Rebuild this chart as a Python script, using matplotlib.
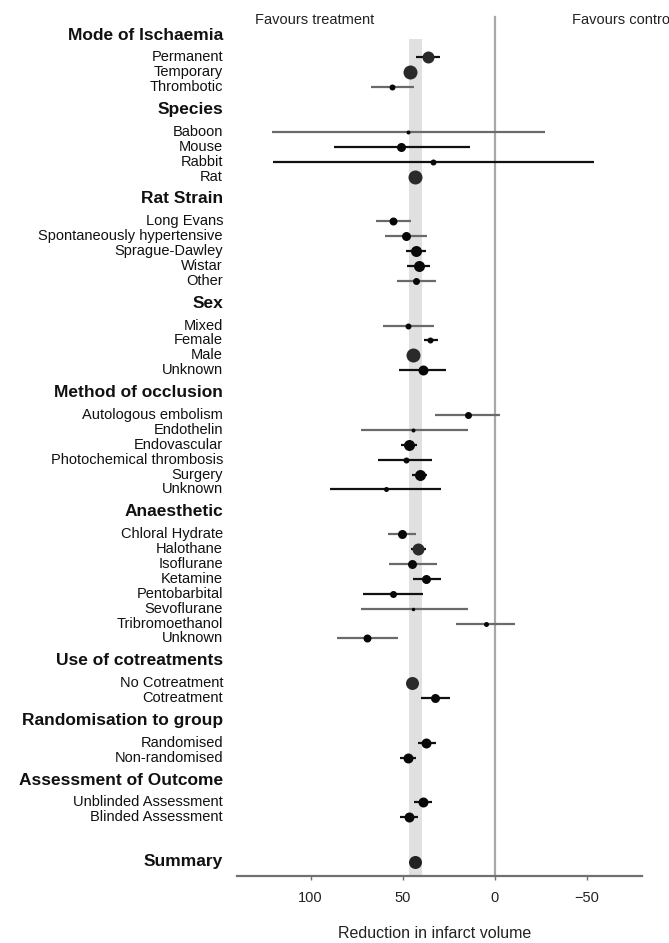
import numpy as np
import matplotlib.pyplot as plt
import matplotlib.transforms as mtransforms

plt.rcParams['font.family'] = ['Liberation Sans', 'DejaVu Sans']

#==================datos (lectura de la figura)==================
headers = ['Mode of Ischaemia', 'Species', 'Rat Strain', 'Sex', 'Method of occlusion',
           'Anaesthetic', 'Use of cotreatments', 'Randomisation to group',
           'Assessment of Outcome']
n_items = [3, 4, 5, 4, 6, 8, 2, 2, 2]

labels = ['Permanent', 'Temporary', 'Thrombotic',
          'Baboon', 'Mouse', 'Rabbit', 'Rat',
          'Long Evans', 'Spontaneously hypertensive', 'Sprague-Dawley', 'Wistar', 'Other',
          'Mixed', 'Female', 'Male', 'Unknown',
          'Autologous embolism', 'Endothelin', 'Endovascular', 'Photochemical thrombosis',
          'Surgery', 'Unknown',
          'Chloral Hydrate', 'Halothane', 'Isoflurane', 'Ketamine', 'Pentobarbital',
          'Sevoflurane', 'Tribromoethanol', 'Unknown',
          'No Cotreatment', 'Cotreatment',
          'Randomised', 'Non-randomised',
          'Unblinded Assessment', 'Blinded Assessment']
est = [36.0, 45.8, 55.8,
       47.0, 50.7, 33.3, 43.3,
       55.1, 48.4, 42.6, 41.4, 42.6,
       47.2, 34.9, 44.2, 39.1,
       14.7, 44.2, 46.7, 48.4, 40.7, 59.3,
       50.5, 41.6, 44.7, 37.2, 55.3, 44.2, 4.9, 69.5,
       44.9, 32.3,
       37.2, 47.0,
       39.1, 46.5]
ci_lo = [29.8, 42.6, 43.7,
         -27.4, 13.5, -54.0, 41.5,
         45.3, 36.7, 37.4, 34.9, 32.1,
         32.8, 30.9, 42.0, 26.7,
         -2.8, 14.7, 42.1, 34.0, 36.7, 29.0,
         42.6, 37.2, 31.2, 29.1, 39.1, 14.7, -10.9, 52.6,
         42.5, 24.2,
         32.1, 42.6,
         34.0, 41.9]
ci_hi = [42.6, 48.8, 67.0,
         121.0, 87.2, 120.2, 45.5,
         64.7, 59.5, 48.4, 47.9, 53.0,
         60.9, 38.6, 46.5, 51.9,
         32.6, 72.8, 50.7, 63.5, 44.9, 89.5,
         58.1, 45.6, 57.7, 44.4, 71.6, 72.8, 20.9, 85.8,
         47.3, 39.8,
         41.9, 51.4,
         43.7, 51.4]
# tamano relativo del punto (peso del estrato)
weight = [12, 14, 6,
          4, 9, 6, 14,
          8, 9, 11, 11, 7,
          6, 6, 14, 10,
          7, 4, 11, 6, 11, 5,
          9, 12, 9, 9, 7, 3.5, 5, 8,
          13, 9,
          10, 10,
          10, 10]

summary_est = 43.3
summary_lo = 39.5
summary_hi = 46.7

xticks = [100, 50, 0, -50]

#==================estilo=========
grey_ci = {2, 3, 7, 8, 11, 12, 16, 17, 22, 24, 27, 28, 29}

fig = plt.figure(figsize=(6.69, 9.43), dpi=100)
ax = fig.add_axes([237/669, 1-876/943, 405/669, 866/943])

# posiciones de filas
rows = []
head_rows = []
r = 0.0
for h, n in zip(headers, n_items):
    head_rows.append(r)
    r += 1.5
    for i in range(n):
        rows.append(r)
        r += 1
    r += 0.5
summary_row = rows[-1] + 3

ybot = 56.44
ax.fill_betweenx([0.27, ybot], summary_lo, summary_hi, color='#e0e0e0', lw=0, zorder=0)
ax.plot([0, 0], [-1.2, ybot], color='#a8a8a8', lw=1.6, zorder=1)

for i, y in enumerate(rows):
    c = '#6a6a6a' if i in grey_ci else '#111111'
    ax.plot([ci_lo[i], ci_hi[i]], [y, y], color=c, lw=1.6, solid_capstyle='butt', zorder=2)
    big = weight[i] >= 12
    ax.plot(est[i], y, 'o', ms=weight[i]*0.72, color='#2a2a2a' if big else '#080808',
            mec='none', zorder=3)

# el IC del resumen es la banda gris
ax.plot(summary_est, summary_row, 'o', ms=13*0.72, color='#222222', mec='none', zorder=3)

trans = mtransforms.blended_transform_factory(fig.transFigure, ax.transData)
lx = 223/669
for h, y in zip(headers, head_rows):
    ax.text(lx, y, h, transform=trans, ha='right', va='center', fontsize=12.5,
            fontweight='bold', color='#111111')
for lab, y in zip(labels, rows):
    ax.text(lx, y, lab, transform=trans, ha='right', va='center', fontsize=10.5,
            color='#111111')
ax.text(lx, summary_row, 'Summary', transform=trans, ha='right', va='center',
        fontsize=12.5, fontweight='bold', color='#111111')

ax.set_xlim(140, -80)
ax.set_ylim(ybot, -1.68)
for s in ['top', 'left', 'right']:
    ax.spines[s].set_visible(False)
ax.spines['bottom'].set_color('#707070')
ax.spines['bottom'].set_linewidth(1.6)
ax.set_yticks([])
ax.set_xticks(xticks)
ax.set_xticklabels([str(t).replace('-', '\u2212') for t in xticks])
ax.tick_params(axis='x', length=3, width=1, color='#707070', labelsize=10.5,
               pad=8, labelcolor='#222222')

fig.text(255/669, 1-20/943, 'Favours treatment', ha='left', va='center', fontsize=10.5,
         color='#222222')
fig.text(572/669, 1-20/943, 'Favours control', ha='left', va='center', fontsize=10.5,
         color='#222222')
fig.text(435/669, 1-933/943, 'Reduction in infarct volume', ha='center', va='center',
         fontsize=11.5, color='#222222')

fig.savefig('out.png', dpi=100)
